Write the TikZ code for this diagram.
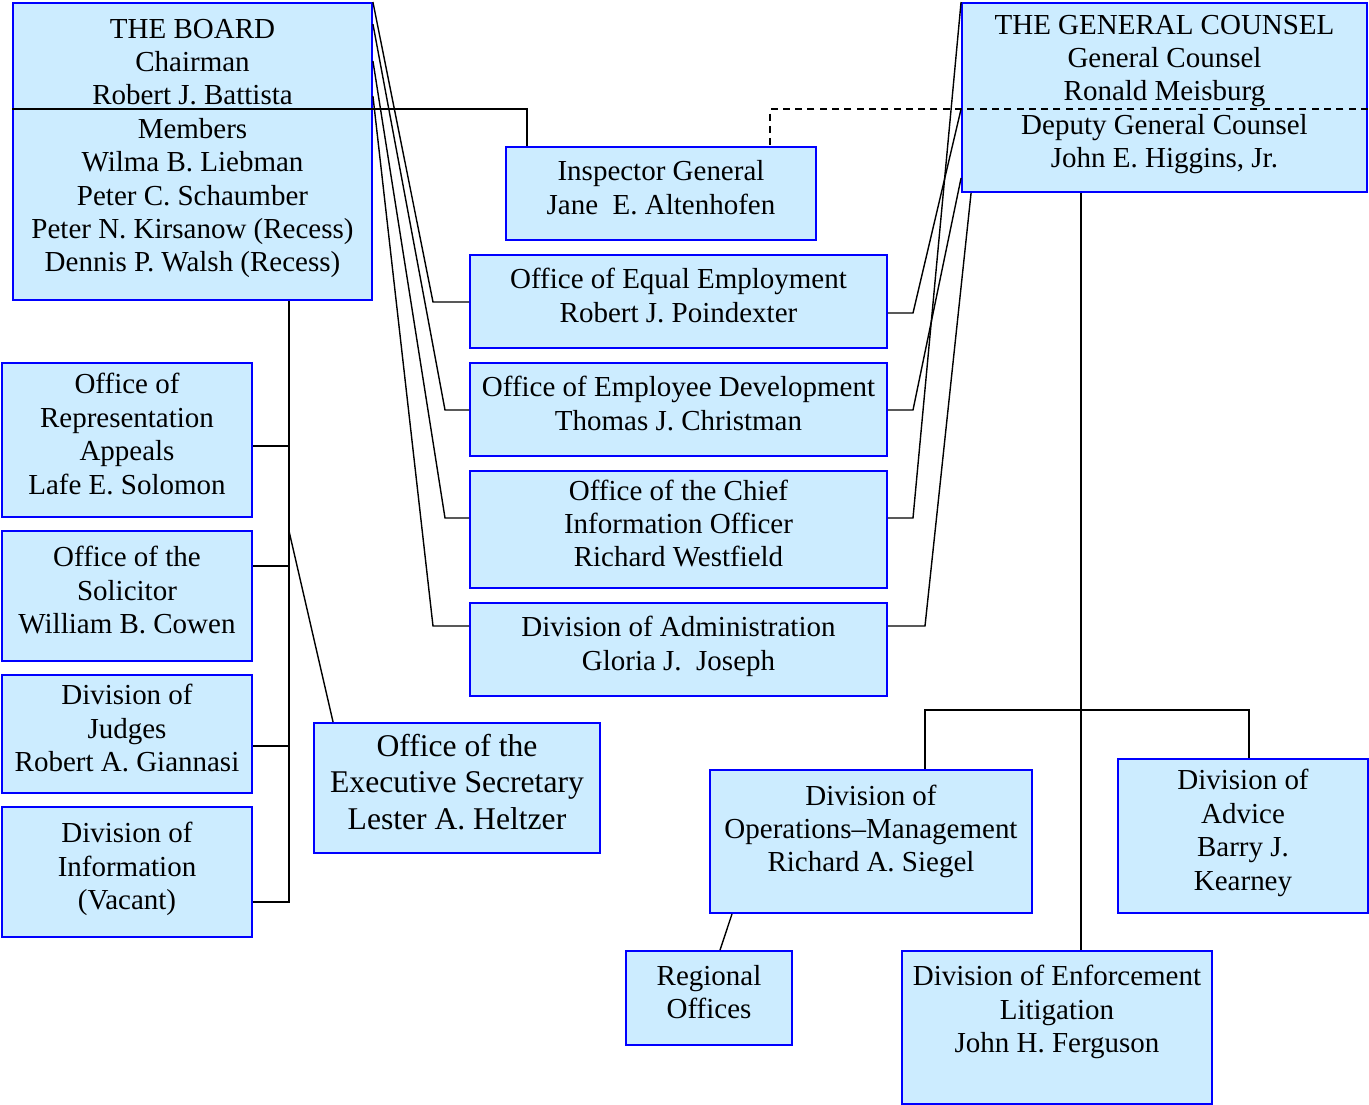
\documentclass[tikz,border=0pt]{standalone}
\usepackage{fontspec}
\setmainfont{Liberation Serif}
\usetikzlibrary{calc}
\definecolor{boxfill}{RGB}{204,236,255}
\definecolor{boxline}{RGB}{0,0,255}
\tikzset{
    base/.style={draw=boxline, line width=1.1pt, fill=boxfill, align=center, inner sep=2pt, font=\fontsize{16.5}{19}\selectfont, execute at end node={\rule[-7pt]{0pt}{7pt}}},
    bigbase/.style={base, font=\fontsize{18}{21}\selectfont},
    link/.style={draw, line width=0.8pt},
    dashedlink/.style={link, dash pattern=on 4pt off 3pt}
}

\begin{document}
\begin{tikzpicture}[x=0.02cm, y=-0.02cm]
    \useasboundingbox (0,0) rectangle (1369,1105);

    % Heads
    \node[base, minimum width=7.18cm, minimum height=5.94cm] (board) at (192.5,151.5) {THE BOARD\\Chairman\\Robert J. Battista\\Members\\Wilma B. Liebman\\Peter C. Schaumber\\Peter N. Kirsanow (Recess)\\Dennis P. Walsh (Recess)};
    \node[base, minimum width=8.1cm, minimum height=3.78cm] (gc) at (1164.5,97.5) {THE GENERAL COUNSEL\\General Counsel\\Ronald Meisburg\\Deputy General Counsel\\John E. Higgins, Jr.};

    % Shared offices
    \node[base, minimum width=6.2cm, minimum height=1.86cm] (ig) at (661,193.5) {Inspector General\\Jane\ \ E. Altenhofen};
    \node[base, minimum width=8.34cm, minimum height=1.86cm] (eeo) at (678.5,301.5) {Office of Equal Employment\\Robert J. Poindexter};
    \node[base, minimum width=8.34cm, minimum height=1.86cm] (empdev) at (678.5,409.5) {Office of Employee Development\\Thomas J. Christman};
    \node[base, minimum width=8.34cm, minimum height=2.34cm] (cio) at (678.5,529.5) {Office of the Chief\\Information Officer\\Richard Westfield};
    \node[base, minimum width=8.34cm, minimum height=1.86cm] (admin) at (678.5,649.5) {Division of Administration\\Gloria J.\ \ Joseph};

    % Board offices
    \node[base, minimum width=5cm, minimum height=3.08cm] (repappeals) at (127,440) {Office of\\Representation\\Appeals\\Lafe E. Solomon};
    \node[base, minimum width=5cm, minimum height=2.6cm] (solicitor) at (127,596) {Office of the\\Solicitor\\William B. Cowen};
    \node[base, minimum width=5cm, minimum height=2.36cm] (judges) at (127,734) {Division of\\Judges\\Robert A. Giannasi};
    \node[base, minimum width=5cm, minimum height=2.6cm] (information) at (127,872) {Division of\\Information\\(Vacant)};
    \node[bigbase, minimum width=5.72cm, minimum height=2.6cm] (execsec) at (457,788) {Office of the\\Executive Secretary\\Lester A. Heltzer};

    % General Counsel divisions
    \node[base, minimum width=6.44cm, minimum height=2.86cm] (opsmgmt) at (871,841.5) {Division of\\Operations--Management\\Richard A. Siegel\rule[-15pt]{0pt}{15pt}};
    \node[base, minimum width=5cm, minimum height=3.08cm] (advice) at (1243,836) {Division of\\Advice\\Barry J.\\Kearney};
    \node[base, minimum width=3.32cm, minimum height=1.88cm] (regional) at (709,998) {Regional\\Offices};
    \node[base, minimum width=6.2cm, minimum height=3.06cm] (enforcement) at (1057,1027.5) {Division of Enforcement\\Litigation\\John H. Ferguson\rule[-21pt]{0pt}{21pt}};

    % Inspector General lines
    \draw[link] (board.west |- 0,109) -| ($(ig.north west)+(22,0)$);
    \draw[dashedlink] (gc.east |- 0,109) -| ($(ig.north east)+(-47,0)$);

    % Board to shared offices
    \draw[link] (board.north east) -- (433,302) -- (eeo.west |- 0,302);
    \draw[link] ($(board.north east)+(0,22)$) -- (445,410) -- (empdev.west |- 0,410);
    \draw[link] ($(board.north east)+(0,59)$) -- (445,518) -- (cio.west |- 0,518);
    \draw[link] ($(board.north east)+(0,94)$) -- (433,626) -- (admin.west |- 0,626);

    % General Counsel to shared offices
    \draw[link] (eeo.east |- 0,313) -- (913,313) -- (gc.west |- 0,109);
    \draw[link] (empdev.east |- 0,410) -- (913,410) -- (gc.west |- 0,178);
    \draw[link] (cio.east |- 0,518) -- (913,518) -- (gc.north west);
    \draw[link] (admin.east |- 0,626) -- (925,626) -- ($(gc.south west)+(10,0)$);

    % Board offices
    \draw[link] (board.south -| 289,0) -- (289,902) -- (information.east |- 0,902);
    \draw[link] (289,446) -- (repappeals.east |- 0,446);
    \draw[link] (289,566) -- (solicitor.east |- 0,566);
    \draw[link] (289,746) -- (judges.east |- 0,746);
    \draw[link] (289,531) -- ($(execsec.north west)+(20,0)$);

    % General Counsel divisions
    \draw[link] (gc.south -| 1081,0) -- (enforcement.north -| 1081,0);
    \draw[link] (opsmgmt.north -| 925,0) -- (925,710) -- (1249,710) -- (advice.north -| 1249,0);
    \draw[link] (opsmgmt.south -| 732,0) -- (regional.north -| 720,0);
\end{tikzpicture}
\end{document}
